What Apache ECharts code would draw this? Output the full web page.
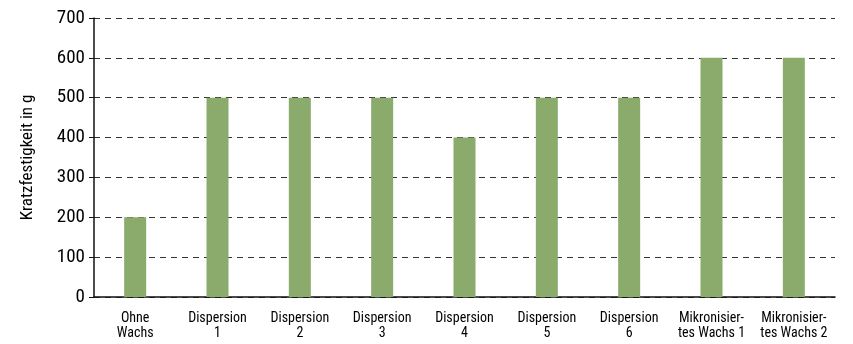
<!DOCTYPE html>
<html><head><meta charset="utf-8">
<script src="https://cdn.jsdelivr.net/npm/echarts@6/dist/echarts.min.js"></script>
<style>html,body{margin:0;padding:0;background:#fff}#c{width:853px;height:344px}</style>
</head><body><div id="c"></div>
<script>
const categories = ["Ohne\nWachs","Dispersion\n1","Dispersion\n2","Dispersion\n3","Dispersion\n4","Dispersion\n5","Dispersion\n6","Mikronisier-\ntes Wachs 1","Mikronisier-\ntes Wachs 2"];
const values = [200,500,500,500,400,500,500,600,600];
const yTicks = {min:0,max:700,interval:100};
const yName = "Kratzfestigkeit in g";
const font = "'Liberation Sans Narrow','Roboto Condensed','Liberation Sans',sans-serif";
const chart = echarts.init(document.getElementById('c'));
chart.setOption({
  animation:false,
  grid:{left:94,right:18,top:18,bottom:47,containLabel:false},
  xAxis:{type:'category',data:categories,
    axisLine:{lineStyle:{color:'#111',width:1.5}},
    axisTick:{show:false},
    axisLabel:{color:'#000',fontSize:14,fontFamily:font,lineHeight:15,margin:14,interval:0}},
  yAxis:{type:'value',min:yTicks.min,max:yTicks.max,interval:yTicks.interval,
    name:yName,nameLocation:'middle',nameGap:58,nameRotate:90,
    nameTextStyle:{color:'#000',fontSize:17,fontFamily:font},
    axisLine:{show:true,lineStyle:{color:'#111',width:1.5}},
    axisTick:{show:true,length:5,lineStyle:{color:'#111'}},
    axisLabel:{color:'#000',fontSize:19,fontFamily:font,margin:9},
    splitLine:{lineStyle:{color:'#333',type:[6,5],width:1}}},
  series:[{type:'bar',data:values,barWidth:22,itemStyle:{color:'#8aab6b'}}]
});
</script></body></html>
